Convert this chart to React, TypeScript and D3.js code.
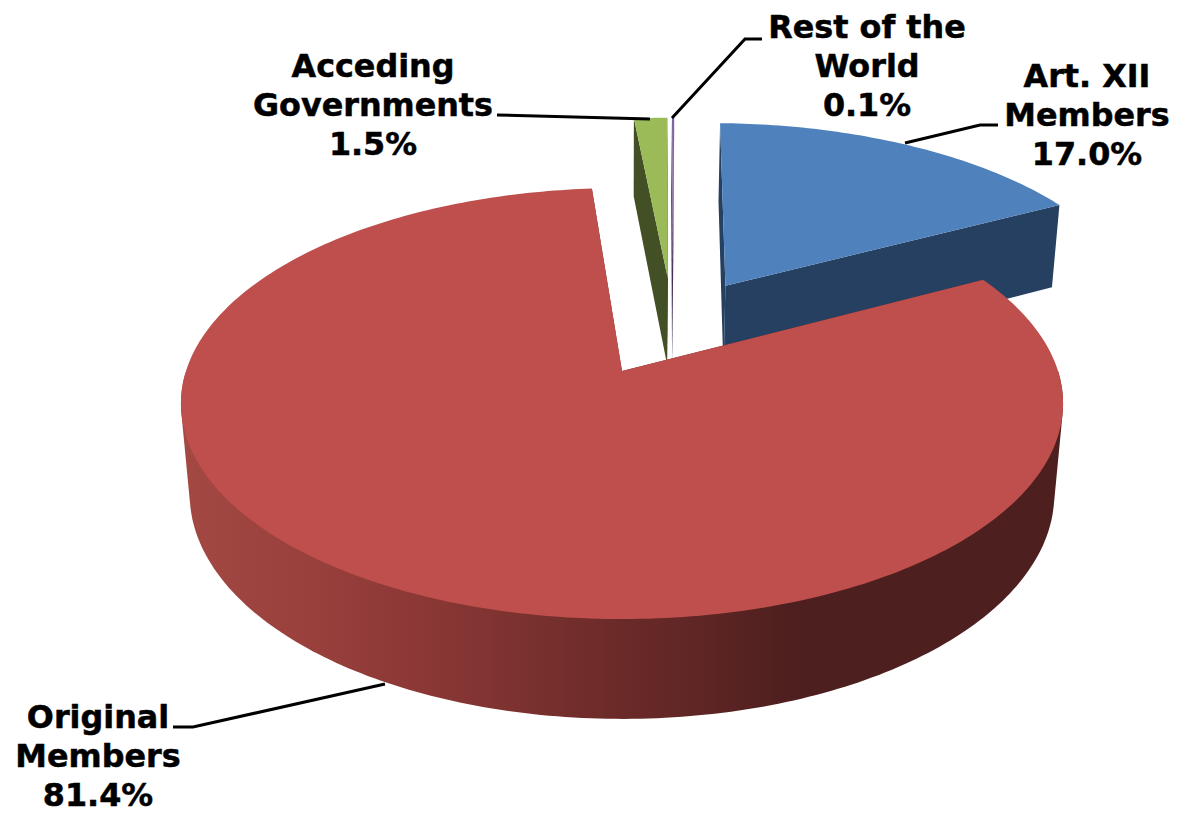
import { useEffect, useRef } from 'react';
import * as d3 from 'd3';

const groups = ['Art. XII Members', 'Original Members', 'Acceding Governments', 'Rest of the World'];
const shares = [17.0, 81.4, 1.5, 0.1];
const topColors = ['#4F81BD', '#BE4F4C', '#9BBB59', '#8064A2'];
const wallColors = ['#254061', '#632523', '#434F24', '#403152'];

// shading of the big slice's outer wall, read left to right
const wallStopX = [185, 300, 400, 500, 620, 700, 790, 1060];
const wallStopColor = ['#A34843', '#9A413D', '#8E3937', '#7F3331', '#6A2A28', '#5F2625', '#4D1F1E', '#4D1F1E'];

const labelLines = [
  ['Art. XII', 'Members', '17.0%'],
  ['Original', 'Members', '81.4%'],
  ['Acceding', 'Governments', '1.5%'],
  ['Rest of the', 'World', '0.1%'],
];
const labelX = [1087, 98, 373, 867];
const labelY = [87, 728, 77, 38];
const leaders = [
  [[905, 143], [980, 125], [998, 125]],
  [[385, 684], [193, 727], [173, 727]],
  [[497, 115], [650, 119]],
  [[672, 118], [745, 39], [762, 39]],
];

const width = 1182;
const height = 821;

// perspective of the pie plane, origin is the apex of the big slice
const originX = 622;
const originY = 371;
const scaleU = 436;
const scaleV = 210.6;
const tilt = 0.151;
const thickness = 0.0198;
const vanishY = 4629;
const explode = 0.25;
const rotation = (1.2 * Math.PI) / 180;
const refSlice = 1;

function project(u: number, v: number, lower: boolean): [number, number] {
  const w = 1 - tilt * v;
  const e = lower ? thickness : 0;
  const x = (scaleU * u) / (w + e);
  const y = (scaleV * v + e * vanishY) / (w + e);
  return [originX + x, originY + y];
}

export default function App() {
  const svgRef = useRef<SVGSVGElement>(null);

  useEffect(() => {
    if (!svgRef.current) return;
    const svg = d3.select(svgRef.current);
    svg.selectAll('*').remove();

    const arcs = d3.pie<number>().sort(null).startAngle(rotation).endAngle(2 * Math.PI + rotation)(shares);
    const mid = (i: number) => (arcs[i].startAngle + arcs[i].endAngle) / 2;
    const offset = (i: number): [number, number] => [
      explode * (Math.sin(mid(i)) - Math.sin(mid(refSlice))),
      explode * (-Math.cos(mid(i)) + Math.cos(mid(refSlice))),
    ];

    const grad = svg.append('defs').append('linearGradient')
      .attr('id', 'wall-shade')
      .attr('gradientUnits', 'userSpaceOnUse')
      .attr('x1', 180).attr('x2', 1063).attr('y1', 0).attr('y2', 0);
    const stopScale = d3.scaleLinear().domain([180, 1063]).range([0, 1]);
    wallStopX.forEach((x, i) => {
      grad.append('stop').attr('offset', stopScale(x)).attr('stop-color', wallStopColor[i]);
    });

    const line = d3.line();
    const closed = (pts: [number, number][]) => line(pts) + 'Z';

    const drawSlice = (i: number) => {
      const a = arcs[i];
      const [ou, ov] = offset(i);
      const rim = (t: number, lower: boolean) => project(ou + Math.sin(t), ov - Math.cos(t), lower);
      const apexTop = project(ou, ov, false);
      const apexLow = project(ou, ov, true);
      const n = Math.max(2, Math.ceil((a.endAngle - a.startAngle) * 60));
      const angles = d3.range(n + 1).map(k => a.startAngle + ((a.endAngle - a.startAngle) * k) / n);

      // radial walls
      [a.startAngle, a.endAngle].forEach(t => {
        svg.append('path')
          .attr('d', closed([apexTop, rim(t, false), rim(t, true), apexLow]))
          .attr('fill', wallColors[i]);
      });

      // outer wall, only the part that faces the viewer
      const front = angles.filter(t => t >= Math.PI / 2 && t <= 1.5 * Math.PI);
      if (front.length > 2) {
        const hull = d3.polygonHull(front.flatMap(t => [rim(t, false), rim(t, true)]));
        if (hull) {
          svg.append('path').attr('d', closed(hull)).attr('fill', 'url(#wall-shade)');
        }
      }

      svg.append('path')
        .attr('d', closed([apexTop, ...angles.map(t => rim(t, false))]))
        .attr('fill', topColors[i]);
    };

    [0, 2, 3, 1].forEach(drawSlice);

    // Leader lines
    svg.selectAll('.leader')
      .data(leaders)
      .enter()
      .append('path')
      .attr('class', 'leader')
      .attr('d', d => line(d as [number, number][]))
      .attr('fill', 'none')
      .attr('stroke', '#000')
      .attr('stroke-width', 3);

    // Labels
    groups.forEach((g, i) => {
      const text = svg.append('text')
        .attr('aria-label', g)
        .attr('text-anchor', 'middle')
        .style('font-family', '"DejaVu Sans", sans-serif')
        .style('font-weight', 'bold')
        .style('font-size', '31.8px')
        .style('fill', '#000')
        .style('stroke', '#000')
        .style('stroke-width', 0.5);
      labelLines[i].forEach((t, k) => {
        text.append('tspan')
          .attr('x', labelX[i])
          .attr('y', labelY[i] + k * 39)
          .text(t);
      });
    });
  }, []);

  return (
    <svg
      ref={svgRef}
      width={width}
      height={height}
      style={{ position: 'absolute', left: 0, top: 0, background: '#fff' }}
    />
  );
}
